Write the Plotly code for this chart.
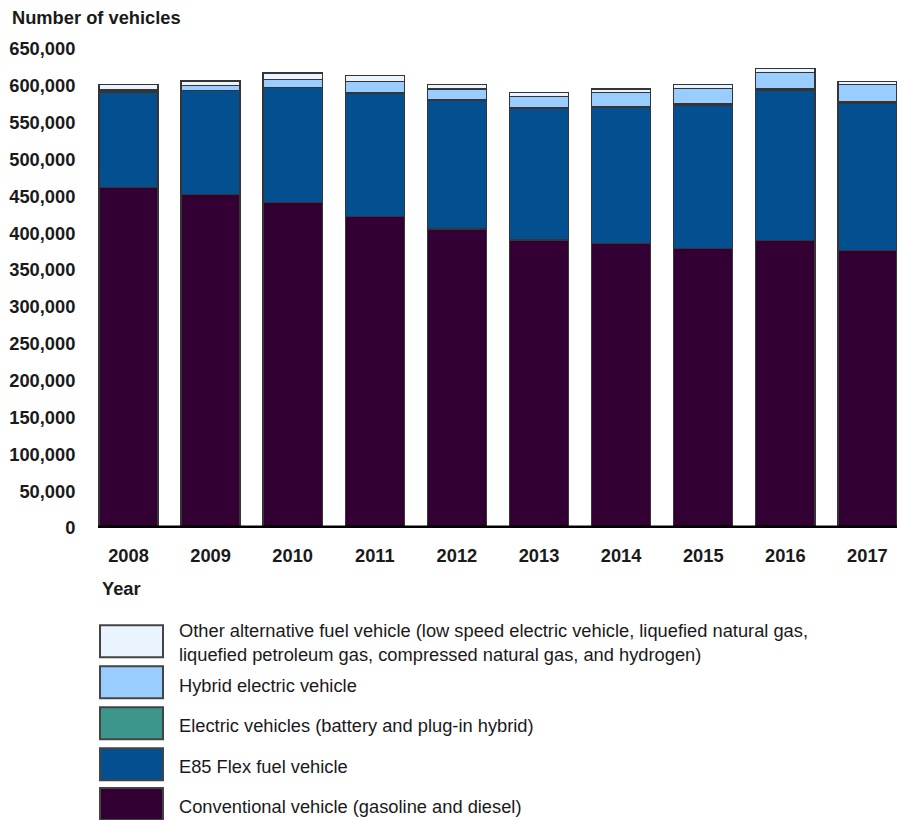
import plotly.graph_objects as go

# Vehicle counts by fuel type, 2008-2017
years = ["2008", "2009", "2010", "2011", "2012", "2013", "2014", "2015", "2016", "2017"]
conventional = [462200, 452300, 441500, 422900, 405800, 391000, 386400, 379200, 390400, 376100]
flex_fuel = [129600, 141800, 156600, 167500, 175200, 178700, 184100, 195000, 204100, 200400]
electric = [0, 0, 100, 200, 400, 600, 800, 1000, 1200, 1400]
hybrid = [2700, 6200, 10800, 15100, 14400, 15100, 19500, 21600, 22800, 24300]
other_alt = [7200, 6400, 8500, 8700, 6400, 5400, 5000, 5400, 4800, 3500]

y_ticks = list(range(0, 650001, 50000))
y_tick_labels = [f"{v:,}" for v in y_ticks]

series = [
    ("Conventional vehicle (gasoline and diesel)", conventional, "#330033"),
    ("E85 Flex fuel vehicle", flex_fuel, "#044f8f"),
    ("Electric vehicles (battery and plug-in hybrid)", electric, "#3d968b"),
    ("Hybrid electric vehicle", hybrid, "#99ccff"),
    ("Other alternative fuel vehicle (low speed electric vehicle, liquefied natural gas,<br>"
     "liquefied petroleum gas, compressed natural gas, and hydrogen)", other_alt, "#eaf4ff"),
]

W, H = 902, 820
PL, PR, PT, PB = 98, 897, 48.8, 528.5   # plot area in pixels

FONT = "Liberation Sans, Arial, sans-serif"
TEXT = "#1a1a1a"
FS = 18.3

fig = go.Figure()
for name, vals, color in series:
    fig.add_trace(go.Bar(
        x=years, y=vals, name=name,
        marker=dict(color=color, line=dict(color="#353535", width=1.3)),
        showlegend=False,
    ))


def px_x(px):
    return (px - PL) / (PR - PL)


def px_y(py):
    return (PB - py) / (PB - PT)


shapes = []
annotations = []

# heavy baseline along the x axis
shapes.append(dict(type="line", xref="paper", yref="y", x0=0, x1=1, y0=0, y1=0,
                   line=dict(color="black", width=5), layer="above"))

# axis titles
annotations.append(dict(text="<b>Number of vehicles</b>", xref="paper", yref="paper",
                        x=px_x(10), y=px_y(17), xanchor="left", yanchor="middle",
                        showarrow=False, font=dict(size=FS, color=TEXT, family=FONT)))
annotations.append(dict(text="<b>Year</b>", xref="paper", yref="paper",
                        x=px_x(100), y=px_y(589), xanchor="left", yanchor="middle",
                        showarrow=False, font=dict(size=FS, color=TEXT, family=FONT)))

# legend, listed top to bottom
legend_rows = [
    (series[4], 626, 658, 643),
    (series[3], 667, 699, 686),
    (series[2], 708, 740, 726),
    (series[1], 749, 781, 767),
    (series[0], 789, 821, 807),
]
for (name, _, color), top, bottom, text_y in legend_rows:
    shapes.append(dict(type="rect", xref="paper", yref="paper",
                       x0=px_x(100), x1=px_x(163), y0=px_y(bottom), y1=px_y(top),
                       fillcolor=color, line=dict(color="#444444", width=2)))
    annotations.append(dict(text=name, xref="paper", yref="paper",
                            x=px_x(177), y=px_y(text_y), xanchor="left", yanchor="middle",
                            align="left", showarrow=False,
                            font=dict(size=FS, color=TEXT, family=FONT)))

fig.update_layout(
    width=W, height=H,
    margin=dict(l=PL, r=W - PR, t=PT, b=H - PB, pad=0),
    barmode="stack", bargap=0.28,
    plot_bgcolor="white", paper_bgcolor="white",
    font=dict(family=FONT, size=FS, color=TEXT),
    shapes=shapes, annotations=annotations,
    xaxis=dict(type="category", range=[-0.371, 9.36], showline=False, showgrid=False,
               zeroline=False, ticks="outside", ticklen=11, tickcolor="rgba(0,0,0,0)",
               tickfont=dict(size=FS, color=TEXT, family=FONT),
               tickvals=years, ticktext=[f"<b>{y}</b>" for y in years]),
    yaxis=dict(range=[0, 650000], showline=False, showgrid=False, zeroline=False,
               tickvals=y_ticks, ticktext=[f"<b>{t}</b>" for t in y_tick_labels],
               ticks="outside", ticklen=18, tickcolor="rgba(0,0,0,0)",
               tickfont=dict(size=FS, color=TEXT, family=FONT)),
)

fig.write_html("out.html")
